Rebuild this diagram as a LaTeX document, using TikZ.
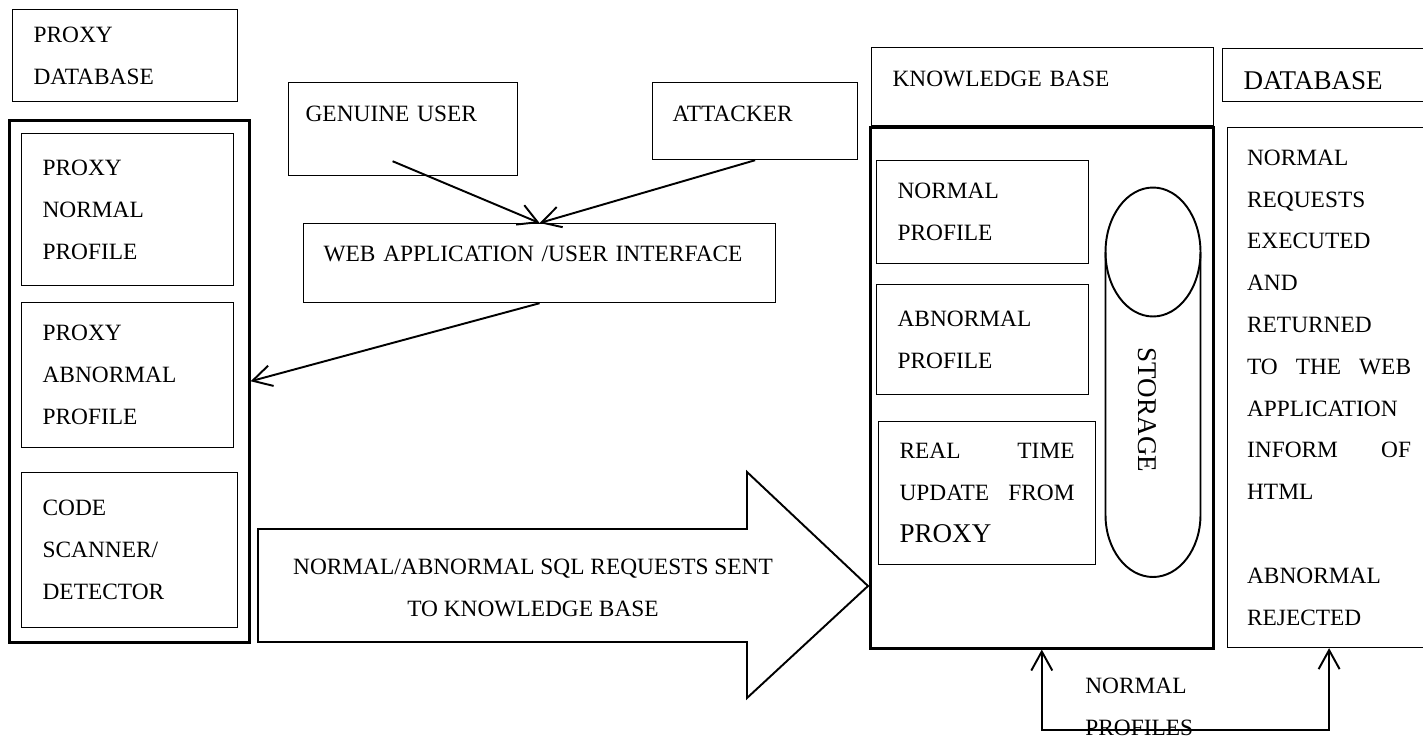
\documentclass[tikz,border=0pt]{standalone}
\usepackage{fontspec}
\setmainfont{Liberation Serif}
\usetikzlibrary{arrows.meta}

\begin{document}
\begin{tikzpicture}[
    x=0.02cm, y=-0.02cm,
    >={Straight Barb[length=3.8mm, width=4.2mm]},
    font=\fontsize{13.3}{23.8}\selectfont,
    box/.style={draw, line width=0.7pt, anchor=north west, align=left, inner xsep=0.42cm, inner ysep=0pt},
    frame/.style={draw, line width=1.5pt, anchor=north west, inner sep=0pt},
    link/.style={->, line width=1.1pt},
    lift/.style={text height=0.3cm, text depth=#1},
    big/.style={font=\fontsize{15.4}{23.8}\selectfont}
]
\useasboundingbox (0,0) rectangle (1423,741);

    % proxy side
    \node[box, text width=3.66cm, minimum height=1.84cm] (pdb) at (12,9) {PROXY\\DATABASE};
    \node[frame, minimum width=4.8cm, minimum height=10.44cm] (pxy) at (8,119) {};
    \node[box, text width=3.4cm, minimum height=3.04cm] (pnp) at (21,133) {PROXY\\NORMAL\\PROFILE};
    \node[box, text width=3.4cm, minimum height=2.9cm] (pap) at (21,302) {PROXY\\ABNORMAL\\PROFILE};
    \node[box, text width=3.48cm, minimum height=3.1cm] (csd) at (21,472) {CODE\\SCANNER/\\DETECTOR};

    % users and web application
    \node[box, inner xsep=0.34cm, text width=3.9cm, minimum height=1.86cm, lift=0.62cm] (gen) at (288,82) {GENUINE USER};
    \node[box, inner xsep=0.4cm, text width=3.3cm, minimum height=1.54cm, lift=0.3cm] (att) at (652,82) {ATTACKER};
    \node[box, inner xsep=0.4cm, text width=8.64cm, minimum height=1.58cm, lift=0.38cm] (web) at (303,223) {WEB APPLICATION /USER INTERFACE};

    % knowledge base
    \node[box, text width=6.0cm, minimum height=1.56cm, lift=0.32cm] (kb) at (871,47) {KNOWLEDGE BASE};
    \node[frame, minimum width=6.86cm, minimum height=10.42cm] (kbo) at (869,126) {};
    \node[box, text width=3.4cm, minimum height=2.06cm] (knp) at (876,160) {NORMAL\\PROFILE};
    \node[box, text width=3.4cm, minimum height=2.2cm] (kap) at (876,284) {ABNORMAL\\PROFILE};
    \node[box, text width=3.5cm, minimum height=2.86cm] (rtu) at (878,421)
        {REAL\hfill TIME\\UPDATE\hfill FROM\\{\fontsize{15.4}{23.8}\selectfont PROXY}};

    % storage
    \draw[line width=1.1pt] (1153,252) ellipse [x radius=0.95cm, y radius=1.29cm];
    \draw[line width=1.1pt] (1105.5,252) -- (1105.5,515)
        arc [start angle=180, end angle=360, x radius=0.95cm, y radius=1.24cm] -- (1200.5,252);
    \node[big, rotate=-90] (sto) at (1147,410) {STORAGE};

    % database
    \node[box, big, text width=3.32cm, minimum height=1.06cm, text height=0.58cm, text depth=0cm] (dbt) at (1222,48) {DATABASE};
    \node[box, inner xsep=0.39cm, text width=3.28cm, minimum height=10.4cm] (req) at (1227,127)
        {NORMAL\\REQUESTS\\EXECUTED\\AND\\RETURNED\\TO\hfill THE\hfill WEB\\APPLICATION\\INFORM\hfill OF\\HTML\\ \mbox{}\\ABNORMAL\\REJECTED};

    % request arrow
    \draw[line width=1.1pt] (258,529) -- (747,529) -- (747,472) -- (868,586) -- (747,698) -- (747,642) -- (258,642) -- cycle;
    \node[align=center] (sql) at (533,588) {NORMAL/ABNORMAL SQL REQUESTS SENT\\TO KNOWLEDGE BASE};

    % connectors
    \draw[link] ([xshift=-0.21cm, yshift=0.3cm]gen.south) -- (web.north);
    \draw[link] (att.south) -- (web.north);
    \draw[link] (web.south) -- (pxy.east);
    \draw[<->, line width=1.1pt] (kbo.south) -- ++(0,80) -| (req.south);
    \node[anchor=west, align=left, inner sep=0pt] (nprof) at (1085,707) {NORMAL\\PROFILES};

\end{tikzpicture}
\end{document}
